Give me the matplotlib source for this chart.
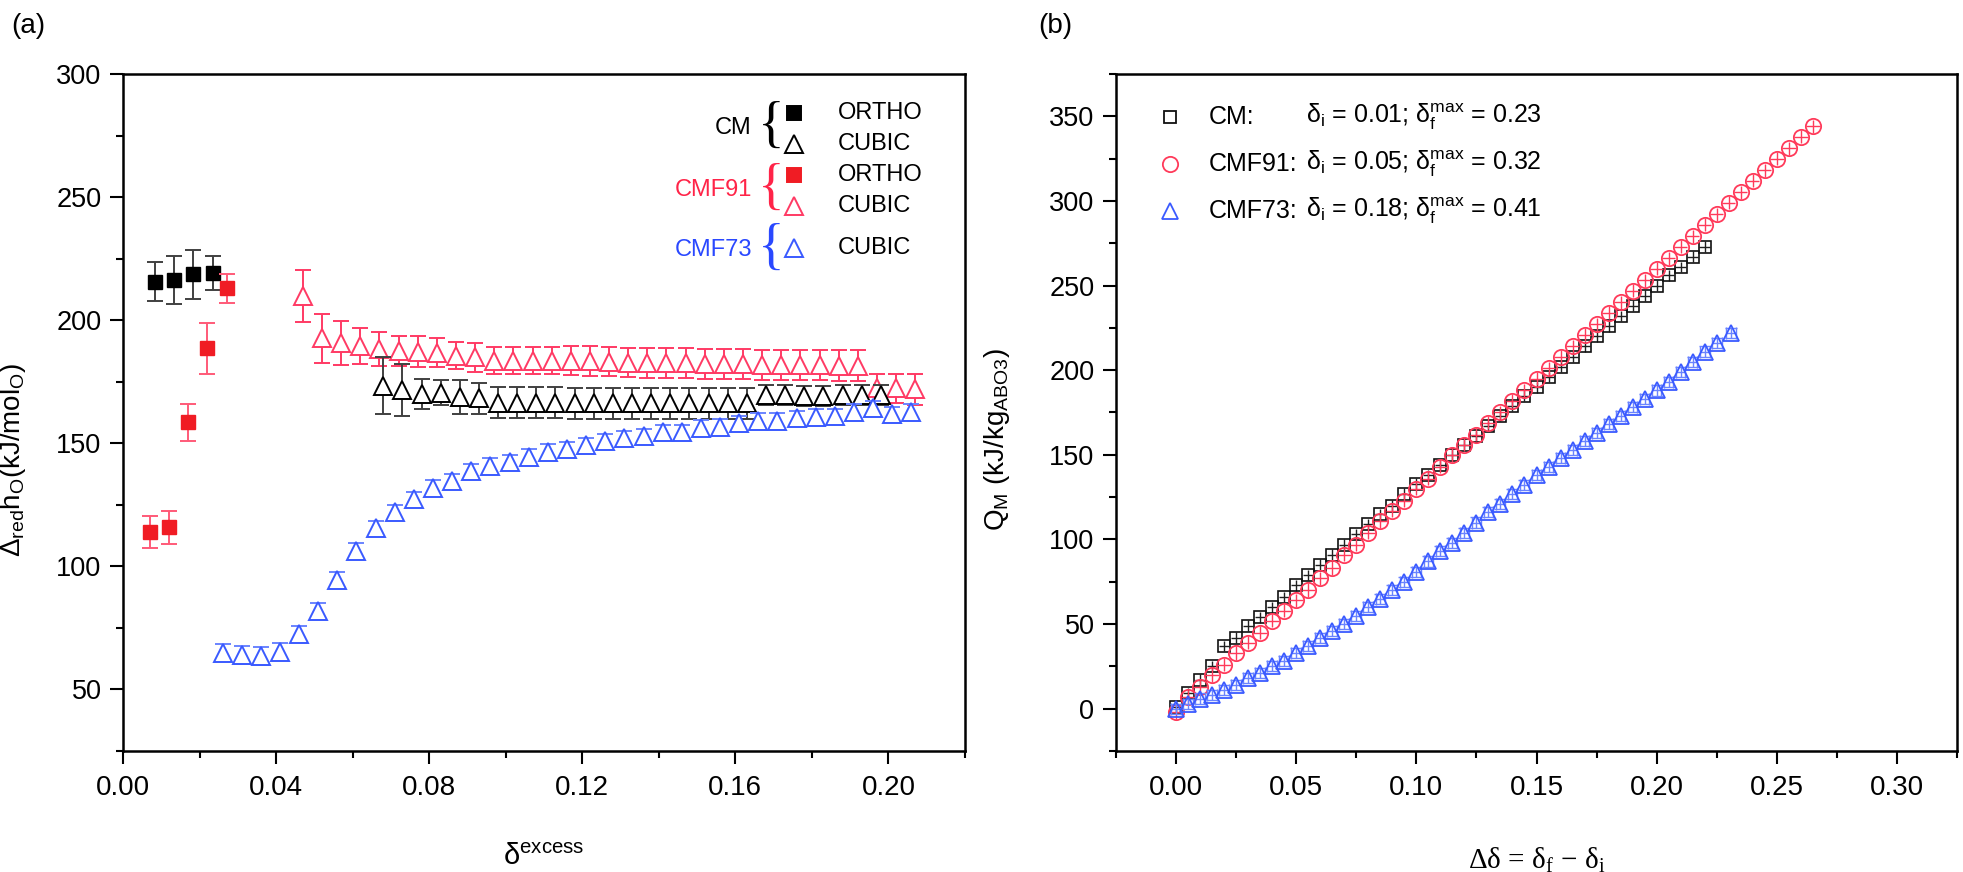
import matplotlib
matplotlib.use("Agg")
import matplotlib.pyplot as plt
from matplotlib.ticker import MultipleLocator, FormatStrFormatter

plt.rcParams['font.family'] = ['Liberation Sans', 'DejaVu Sans']
plt.rcParams['mathtext.fontset'] = 'custom'
plt.rcParams['mathtext.rm'] = 'Liberation Sans'
plt.rcParams['mathtext.it'] = 'Liberation Sans:italic'
plt.rcParams['mathtext.bf'] = 'Liberation Sans:bold'

# ---------------- data: panel (a) ----------------
cm_ortho_x = [0.0084, 0.0133, 0.0184, 0.0234]
cm_ortho_y = [215.6, 216.3, 218.6, 219.2]
cm_ortho_err = [8.0, 9.7, 10.0, 7.0]

cmf91_ortho_x = [0.0070, 0.0120, 0.0171, 0.0220, 0.0271]
cmf91_ortho_y = [114.0, 115.8, 158.5, 188.5, 212.9]
cmf91_ortho_err = [6.5, 6.7, 7.5, 10.5, 6.0]

cmf91_cubic_x = [0.047, 0.052, 0.057, 0.062, 0.067, 0.072, 0.077, 0.082, 0.087, 0.092,
                 0.097, 0.102, 0.107, 0.112, 0.117, 0.122, 0.127, 0.132, 0.137, 0.142,
                 0.147, 0.152, 0.157, 0.162, 0.167, 0.172, 0.177, 0.182, 0.187, 0.192,
                 0.197, 0.202, 0.207]
cmf91_cubic_y = [209.8, 192.6, 190.6, 189.6, 188.2, 187.5, 187.1, 186.8, 185.5, 184.9,
                 183.6, 183.6, 183.6, 183.6, 183.6, 183.4, 183.2, 182.7, 182.5, 182.5,
                 182.5, 182.2, 182.2, 182.2, 181.8, 181.8, 181.8, 181.8, 181.5, 181.5,
                 172.3, 172.3, 171.9]
cmf91_cubic_err = [10.6, 9.8, 9.0, 7.2, 7.0, 6.1, 6.3, 6.0, 5.5, 5.8,
                   5.5, 5.5, 5.6, 5.6, 5.9, 6.0, 6.0, 5.8, 6.0, 6.0,
                   6.0, 6.0, 6.2, 6.2, 6.2, 6.2, 6.2, 6.2, 6.4, 6.4,
                   6.0, 6.0, 6.4]

cm_cubic_x = [0.068, 0.073, 0.078, 0.083, 0.088, 0.093, 0.098, 0.103, 0.108, 0.113,
              0.118, 0.123, 0.128, 0.133, 0.138, 0.143, 0.148, 0.153, 0.158, 0.163,
              0.168, 0.173, 0.178, 0.183, 0.188, 0.193, 0.198]
cm_cubic_y = [173.4, 171.6, 169.9, 170.6, 168.9, 168.2, 166.5, 166.5, 166.4, 166.4,
              166.3, 166.3, 166.2, 166.2, 166.2, 166.2, 166.2, 166.2, 166.2, 166.2,
              169.6, 169.6, 169.2, 169.2, 169.6, 169.6, 169.6]
cm_cubic_err = [11.5, 10.4, 6.1, 5.1, 7.0, 6.2, 6.3, 6.3, 6.3, 6.3,
                6.3, 6.3, 6.3, 6.3, 6.3, 6.3, 6.3, 6.3, 6.3, 6.3,
                3.9, 3.9, 3.9, 3.9, 3.9, 3.9, 3.9]

cmf73_cubic_x = [0.026, 0.031, 0.036, 0.041, 0.046, 0.051, 0.056, 0.061, 0.066, 0.071,
                 0.076, 0.081, 0.086, 0.091, 0.096, 0.101, 0.106, 0.111, 0.116, 0.121,
                 0.126, 0.131, 0.136, 0.141, 0.146, 0.151, 0.156, 0.161, 0.166, 0.171,
                 0.176, 0.181, 0.186, 0.191, 0.196, 0.201, 0.206]
cmf73_cubic_y = [64.9, 64.0, 63.6, 65.3, 72.5, 82.0, 94.5, 106.4, 115.4, 122.0,
                 127.2, 132.0, 134.7, 138.7, 140.9, 142.3, 144.6, 146.6, 147.5, 149.3,
                 150.9, 152.0, 153.0, 154.4, 154.4, 156.3, 156.7, 158.1, 159.2, 159.2,
                 160.1, 160.8, 161.1, 162.8, 164.2, 161.9, 162.8]
cmf73_cubic_err = [3.5, 3.5, 3.5, 3.5, 3.3, 3.3, 3.2, 3.2, 3.0, 3.0,
                   3.0, 3.0, 3.0, 3.0, 3.0, 3.0, 3.0, 3.0, 3.0, 3.0,
                   3.0, 3.0, 3.0, 3.0, 3.0, 3.0, 3.0, 3.0, 3.0, 3.0,
                   3.0, 3.0, 3.0, 3.0, 3.0, 3.0, 3.0]

# ---------------- data: panel (b) ----------------
cm_dd = [0.000, 0.005, 0.010, 0.015, 0.020, 0.025, 0.030, 0.035, 0.040, 0.045,
         0.050, 0.055, 0.060, 0.065, 0.070, 0.075, 0.080, 0.085, 0.090, 0.095,
         0.100, 0.105, 0.110, 0.115, 0.120, 0.125, 0.130, 0.135, 0.140, 0.145,
         0.150, 0.155, 0.160, 0.165, 0.170, 0.175, 0.180, 0.185, 0.190, 0.195,
         0.200, 0.205, 0.210, 0.215, 0.220]
cm_Q = [1, 9, 17, 25, 37, 42, 49, 54, 60, 66,
        73, 79, 85, 91, 97, 103, 109, 115, 120, 127,
        133, 138, 144, 150, 156, 161, 167, 173, 179, 185,
        190, 196, 202, 208, 214, 220, 226, 232, 238, 244,
        250, 256, 261, 267, 273]

cmf91_dd = [0.000, 0.005, 0.010, 0.015, 0.020, 0.025, 0.030, 0.035, 0.040, 0.045,
            0.050, 0.055, 0.060, 0.065, 0.070, 0.075, 0.080, 0.085, 0.090, 0.095,
            0.100, 0.105, 0.110, 0.115, 0.120, 0.125, 0.130, 0.135, 0.140, 0.145,
            0.150, 0.155, 0.160, 0.165, 0.170, 0.175, 0.180, 0.185, 0.190, 0.195,
            0.200, 0.205, 0.210, 0.215, 0.220, 0.225, 0.230, 0.235, 0.240, 0.245,
            0.250, 0.255, 0.260, 0.265]
cmf91_Q = [-2, 7, 13, 20, 26, 33, 39, 45, 52, 58,
           64, 70, 77, 83, 91, 97, 104, 111, 117, 123,
           130, 136, 143, 150, 156, 162, 169, 175, 182, 188,
           195, 201, 208, 214, 221, 227, 234, 240, 247, 253,
           260, 266, 273, 279, 286, 292, 299, 305, 312, 318,
           325, 331, 338, 344]

cmf73_dd = [0.000, 0.005, 0.010, 0.015, 0.020, 0.025, 0.030, 0.035, 0.040, 0.045,
            0.050, 0.055, 0.060, 0.065, 0.070, 0.075, 0.080, 0.085, 0.090, 0.095,
            0.100, 0.105, 0.110, 0.115, 0.120, 0.125, 0.130, 0.135, 0.140, 0.145,
            0.150, 0.155, 0.160, 0.165, 0.170, 0.175, 0.180, 0.185, 0.190, 0.195,
            0.200, 0.205, 0.210, 0.215, 0.220, 0.225, 0.231]
cmf73_Q = [0, 3, 6, 8, 11, 14, 18, 21, 25, 28,
           33, 37, 42, 46, 50, 55, 60, 65, 70, 75,
           81, 87, 93, 98, 104, 110, 116, 121, 127, 132,
           138, 143, 148, 153, 158, 163, 168, 173, 178, 183,
           188, 193, 199, 205, 211, 216, 222]

legend_b_names = ["CM:", "CMF91:", "CMF73:"]
legend_b_params = [r"$\mathregular{δ_i}$ = 0.01; $\mathregular{δ_f^{max}}$ = 0.23",
                   r"$\mathregular{δ_i}$ = 0.05; $\mathregular{δ_f^{max}}$ = 0.32",
                   r"$\mathregular{δ_i}$ = 0.18; $\mathregular{δ_f^{max}}$ = 0.41"]

# ---------------- colours ----------------
BLACK = '#000000'
RED_SQ = '#F01C24'
RED_SQ_ERR = '#FF5A78'
RED_TRI = '#FF3A64'
BLUE = '#3A5AFF'
BLUE_ERR = '#6A84FF'
GREY_ERR = '#404040'

W, H = 1963, 872
fig = plt.figure(figsize=(W / 100, H / 100), dpi=100)

LX0, LX1, TOP, BOT = 123, 965, 74, 751
RX0, RX1 = 1116, 1957
axL = fig.add_axes([LX0 / W, (H - BOT) / H, (LX1 - LX0) / W, (BOT - TOP) / H])
axR = fig.add_axes([RX0 / W, (H - BOT) / H, (RX1 - RX0) / W, (BOT - TOP) / H])

for ax in (axL, axR):
    for s in ax.spines.values():
        s.set_linewidth(1.8)
    ax.tick_params(which='both', direction='out', top=False, right=False, width=1.5)
    ax.tick_params(which='major', length=9.5)
    ax.tick_params(which='minor', length=5)
    ax.tick_params(axis='x', pad=8, labelsize=20)
    ax.tick_params(axis='y', pad=6, labelsize=19.5)

# ---------------- panel (a) ----------------
eb = dict(fmt='none', elinewidth=1.4, capsize=5.5, capthick=1.4)
axL.errorbar(cmf91_cubic_x, cmf91_cubic_y, yerr=cmf91_cubic_err, ecolor=RED_TRI, zorder=2, **eb)
axL.plot(cmf91_cubic_x, cmf91_cubic_y, ls='none', marker='^', ms=13, mfc='white',
         mec=RED_TRI, mew=1.4, zorder=3)
axL.errorbar(cm_cubic_x, cm_cubic_y, yerr=cm_cubic_err, ecolor=GREY_ERR, zorder=4, **eb)
axL.plot(cm_cubic_x, cm_cubic_y, ls='none', marker='^', ms=13, mfc='white',
         mec=BLACK, mew=1.4, zorder=5)
axL.errorbar(cmf73_cubic_x, cmf73_cubic_y, yerr=cmf73_cubic_err, ecolor=BLUE_ERR, zorder=6, **eb)
axL.plot(cmf73_cubic_x, cmf73_cubic_y, ls='none', marker='^', ms=13, mfc='white',
         mec=BLUE, mew=1.4, zorder=7)
axL.errorbar(cm_ortho_x, cm_ortho_y, yerr=cm_ortho_err, ecolor=GREY_ERR, zorder=8, **eb)
axL.plot(cm_ortho_x, cm_ortho_y, ls='none', marker='s', ms=10.5, mfc=BLACK, mec=BLACK, zorder=9)
axL.errorbar(cmf91_ortho_x, cmf91_ortho_y, yerr=cmf91_ortho_err, ecolor=RED_SQ_ERR, zorder=10, **eb)
axL.plot(cmf91_ortho_x, cmf91_ortho_y, ls='none', marker='s', ms=10.5, mfc=RED_SQ, mec=RED_SQ, zorder=11)

axL.set_xlim(0.0, 0.22)
axL.set_ylim(25, 300)
axL.xaxis.set_major_locator(MultipleLocator(0.04))
axL.xaxis.set_minor_locator(MultipleLocator(0.02))
axL.yaxis.set_major_locator(MultipleLocator(50))
axL.yaxis.set_minor_locator(MultipleLocator(25))
axL.xaxis.set_major_formatter(FormatStrFormatter('%.2f'))
axL.set_xlabel(r'δ$^{\mathregular{excess}}$', fontsize=21)
axL.xaxis.set_label_coords(0.5, (BOT - 843) / (BOT - TOP), transform=axL.transAxes)
axL.set_ylabel(r'$\mathregular{Δ_{red}h_O(kJ/mol_O)}$', fontsize=20)
axL.yaxis.set_label_coords((28 - LX0) / (LX1 - LX0), 0.43)


def pa(x, y):
    return ((x - LX0) / (LX1 - LX0), (BOT - y) / (BOT - TOP))


# legend of panel (a)
leg_rows = [(113, 's', BLACK, BLACK, 'ORTHO'),
            (144, '^', 'white', BLACK, 'CUBIC'),
            (175, 's', RED_SQ, RED_SQ, 'ORTHO'),
            (206, '^', 'white', RED_TRI, 'CUBIC'),
            (248, '^', 'white', BLUE, 'CUBIC')]
for (yy, mk, fc, ec, lab) in leg_rows:
    mx, my = pa(794, yy)
    axL.plot([mx], [my], transform=axL.transAxes, marker=mk, ms=10.5 if mk == 's' else 12.5,
             mfc=fc, mec=ec, mew=1.4, ls='none', clip_on=False, zorder=12)
    tx, ty = pa(838, yy)
    axL.text(tx, ty, lab, transform=axL.transAxes, ha='left', va='center', fontsize=17)

groups = [("CM", 128, BLACK), ("CMF91", 190, '#FF2448'), ("CMF73", 250, '#2A48FF')]
for (name, yy, col) in groups:
    nx, ny = pa(752, yy)
    axL.text(nx, ny, name, transform=axL.transAxes, ha='right', va='center',
             fontsize=17, color=col)
    bx, by = pa(771, yy)
    axL.text(bx, by, '{', transform=axL.transAxes, ha='center', va='center',
             fontsize=40, color=col, family='Liberation Serif')

# ---------------- panel (b) ----------------
axR.errorbar(cm_dd, cm_Q, yerr=3.2, xerr=0.0022, fmt='none', ecolor='#202020',
             elinewidth=1.0, capsize=0, zorder=2)
axR.plot(cm_dd, cm_Q, ls='none', marker='s', ms=8, mfc='none', mec='#111111', mew=1.2, zorder=3)
axR.errorbar(cmf91_dd, cmf91_Q, yerr=4.0, xerr=0.0028, fmt='none', ecolor='#FF3A5A',
             elinewidth=1.0, capsize=0, zorder=4)
axR.plot(cmf91_dd, cmf91_Q, ls='none', marker='o', ms=11, mfc='none', mec='#FF3A5A', mew=1.3, zorder=5)
axR.errorbar(cmf73_dd, cmf73_Q, yerr=3.0, xerr=0.002, fmt='none', ecolor=BLUE_ERR,
             elinewidth=1.0, capsize=4, capthick=1.0, zorder=6)
axR.plot(cmf73_dd, cmf73_Q, ls='none', marker='^', ms=12, mfc='none', mec='#3A5AFF', mew=1.3, zorder=7)

axR.set_xlim(-0.025, 0.325)
axR.set_ylim(-25, 375)
axR.xaxis.set_major_locator(MultipleLocator(0.05))
axR.xaxis.set_minor_locator(MultipleLocator(0.025))
axR.yaxis.set_major_locator(MultipleLocator(50))
axR.yaxis.set_minor_locator(MultipleLocator(25))
axR.xaxis.set_major_formatter(FormatStrFormatter('%.2f'))
axR.set_xlabel(r'Δδ = δ$_{\mathregular{f}}$ − δ$_{\mathregular{i}}$', fontsize=21,
               family='Liberation Serif')
axR.xaxis.set_label_coords(0.5, (BOT - 845) / (BOT - TOP), transform=axR.transAxes)
axR.set_ylabel(r'$\mathregular{Q_M\ (kJ/kg_{ABO3})}$', fontsize=20)
axR.yaxis.set_label_coords((1012 - RX0) / (RX1 - RX0), 0.46)


def pb(x, y):
    return ((x - RX0) / (RX1 - RX0), (BOT - y) / (BOT - TOP))


leg_b_style = [('s', '#111111', 8), ('o', '#FF3A5A', 11), ('^', '#3A5AFF', 12)]
for i, yy in enumerate([117, 164, 211]):
    mk, col, ms = leg_b_style[i]
    mx, my = pb(1170, yy)
    axR.plot([mx], [my], transform=axR.transAxes, marker=mk, ms=ms, mfc='none', mec=col,
             mew=1.3, ls='none', clip_on=False)
    tx, ty = pb(1209, yy)
    axR.text(tx, ty, legend_b_names[i], transform=axR.transAxes, ha='left', va='center', fontsize=18)
    tx, ty = pb(1306, yy)
    axR.text(tx, ty, legend_b_params[i], transform=axR.transAxes, ha='left', va='center', fontsize=18)

fig.text(28 / W, 1 - 26 / H, '(a)', fontsize=20, ha='center', va='center')
fig.text(1055 / W, 1 - 26 / H, '(b)', fontsize=20, ha='center', va='center')

fig.savefig('out.png', dpi=100)
